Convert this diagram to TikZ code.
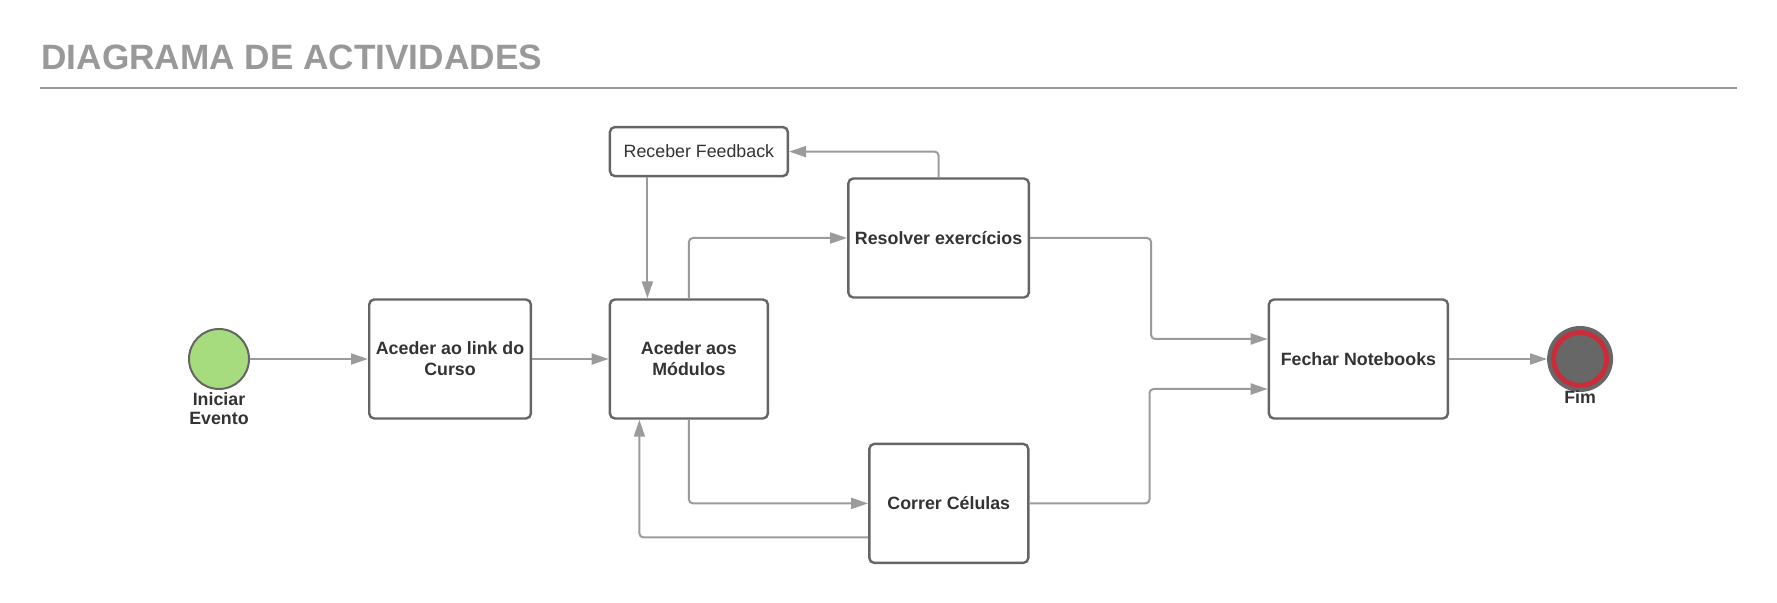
\documentclass[tikz,border=0pt]{standalone}
\usepackage{fontspec}
\setmainfont{Liberation Sans}
\usepackage{xcolor}
\usepackage{tikz}
\usetikzlibrary{arrows.meta,positioning,calc}
\definecolor{titlegrey}{HTML}{999999}
\definecolor{flowgrey}{HTML}{9B9B9B}
\definecolor{boxborder}{HTML}{656565}
\definecolor{boxtext}{HTML}{333333}
\definecolor{startgreen}{HTML}{A6DB7E}
\definecolor{endgrey}{HTML}{676767}
\definecolor{endred}{HTML}{C92D39}

\begin{document}
\begin{tikzpicture}[x=0.5pt,y=-0.5pt,>={Triangle[length=8.5pt,width=5.5pt]}]
  \tikzset{activity/.style={draw=boxborder,fill=white,rounded corners=2.5pt,line width=1.2pt,minimum width=78.5pt,minimum height=59.5pt,align=center,text=boxtext,font=\fontsize{8.9}{10.5}\selectfont\bfseries},
    flow/.style={->,draw=flowgrey,line width=1pt,rounded corners=2pt},
    eventlabel/.style={inner sep=0pt,align=center,text=boxtext,font=\fontsize{8.9}{9.6}\selectfont\bfseries}}
  \useasboundingbox (0,0) rectangle (1777,603);

  \node[anchor=base west,inner sep=0pt,text=titlegrey,font=\fontsize{17.6}{20}\selectfont\bfseries] (titulo) at (41,70) {DIAGRAMA DE ACTIVIDADES};
  \draw[titlegrey,line width=1.1pt] (40,88) -- (1737,88);

  \node[circle,draw=boxborder,fill=startgreen,line width=1pt,minimum size=30pt,inner sep=0pt] (inicio) at (219,359) {};
  \node[eventlabel,below=1.2pt of inicio] (iniciolabel) {Iniciar\\Evento};

  \node[activity,right=59pt of inicio] (link) {Aceder ao link do\\Curso};
  \node[activity,minimum width=79pt,right=38.3pt of link] (modulos) {Aceder aos\\Módulos};
  \node[activity,minimum width=89pt,minimum height=24.5pt,font=\fontsize{8.9}{10.5}\selectfont,above=60.5pt of modulos.north west,anchor=south west] (feedback) {Receber Feedback};
  \node[activity,minimum width=88.5pt,right=29pt of feedback.south east,anchor=north west] (resolver) {Resolver exercícios};
  \node[activity,minimum width=79.5pt,below right=11.5pt and 49.5pt of modulos.south east,anchor=north west] (correr) {Correr Células};
  \node[activity,minimum width=89.5pt,right=249.3pt of modulos] (fechar) {Fechar Notebooks};

  \node[circle,draw=endgrey,fill=endgrey,line width=1pt,minimum size=32pt,inner sep=0pt,right=49pt of fechar] (fim) {};
  \draw[endred,line width=2.5pt] (fim.center) circle (13.25pt);
  \node[eventlabel,below=-1pt of fim] (fimlabel) {Fim};

  \draw[flow] (inicio) -- (link);
  \draw[flow] (link) -- (modulos);
  \draw[flow] (modulos.north) |- (resolver.west);
  \draw[flow] (resolver.north) |- (feedback.east);
  \draw[flow] ([xshift=-25.75pt]feedback.south) -- ([xshift=-25.75pt]feedback.south |- modulos.north);
  \draw[flow] (modulos.south) |- (correr.west);
  \draw[flow] ([yshift=-17pt]correr.west) -| ([xshift=-24.75pt]modulos.south);
  \draw[flow] (resolver.east) -- ++(60.5pt,0) |- ([yshift=10pt]fechar.west);
  \draw[flow] (correr.east) -- ++(60pt,0) |- ([yshift=-15pt]fechar.west);
  \draw[flow] (fechar) -- (fim);
\end{tikzpicture}
\end{document}
